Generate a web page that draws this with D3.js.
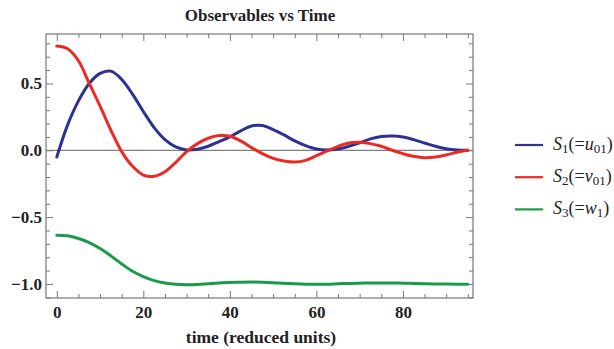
<!DOCTYPE html>
<html>
<head>
<meta charset="utf-8">
<script src="https://cdn.jsdelivr.net/npm/d3@7/dist/d3.min.js"></script>
<style>
  body { margin: 0; background: #fff; }
  text { font-family: "Liberation Serif", "DejaVu Serif", serif; }
</style>
</head>
<body>
<div id="chart"></div>
<script>
// time samples (reduced units)
var times = [0, 2.5, 5, 7.5, 10, 12.5, 15, 17.5, 20, 22.5, 25, 27.5, 30, 32.5, 35, 37.5, 40,
  42.5, 45, 47.5, 50, 52.5, 55, 57.5, 60, 62.5, 65, 67.5, 70, 72.5, 75, 77.5, 80,
  82.5, 85, 87.5, 90, 92.5, 95];

// S1 (=u01)
var s1 = [-0.05, 0.19, 0.37, 0.50, 0.575, 0.592, 0.53, 0.42, 0.29, 0.17, 0.08, 0.025, 0.003,
  0.008, 0.03, 0.065, 0.10, 0.145, 0.182, 0.185, 0.155, 0.115, 0.07, 0.035, 0.01,
  0.003, 0.01, 0.03, 0.055, 0.085, 0.103, 0.107, 0.10, 0.08, 0.055, 0.03, 0.012, 0.003, 0.0];

// S2 (=v01)
var s2 = [0.78, 0.76, 0.67, 0.50, 0.33, 0.15, -0.01, -0.12, -0.185, -0.195, -0.16, -0.09, -0.01,
  0.05, 0.09, 0.11, 0.105, 0.07, 0.02, -0.025, -0.06, -0.08, -0.088, -0.075, -0.04,
  -0.005, 0.03, 0.055, 0.06, 0.05, 0.03, 0.0, -0.025, -0.045, -0.055, -0.05, -0.035, -0.015, 0.0];

// S3 (=w1)
var s3 = [-0.635, -0.64, -0.66, -0.69, -0.735, -0.79, -0.85, -0.905, -0.945, -0.975, -0.993, -1.003, -1.006,
  -1.004, -0.998, -0.992, -0.989, -0.987, -0.986, -0.987, -0.99, -0.995, -0.999, -1.002, -1.003,
  -1.002, -0.999, -0.996, -0.994, -0.993, -0.993, -0.993, -0.994, -0.996, -0.998, -1.0, -1.001, -1.002, -1.002];

var xTicks = [0, 20, 40, 60, 80];
var yTicks = [-1.0, -0.5, 0.0, 0.5];

var series = [
  { name: "S", sub: "1", inner: "u", innerSub: "01", values: s1, color: "#2e3192" },
  { name: "S", sub: "2", inner: "v", innerSub: "01", values: s2, color: "#ec2a24" },
  { name: "S", sub: "3", inner: "w", innerSub: "1", values: s3, color: "#1b9a4c" }
];

var W = 614, H = 349;
var margin = { top: 34, left: 46 };
var width = 427, height = 264;

var svg = d3.select("#chart").append("svg")
  .attr("width", W)
  .attr("height", H);

var g = svg.append("g")
  .attr("transform", "translate(" + margin.left + "," + margin.top + ")");

var x = d3.scaleLinear().domain([-2.5, 96.2]).range([0, width]);
var y = d3.scaleLinear().domain([-1.105, 0.87]).range([height, 0]);

// minor tick values
var xMinor = d3.range(0, 96, 5).filter(function (d) { return d % 20 != 0; });
var yMinor = d3.range(-11, 9).map(function (d) { return d / 10; })
  .filter(function (d) { return Math.abs(Math.round(d * 10)) % 5 != 0; });

function tickAxis(axis, vals, size) {
  return axis.tickValues(vals).tickSize(size).tickFormat("");
}

// ticks on all four sides, pointing inward
var tickGroups = [
  [d3.axisBottom(x), xTicks, -7, "translate(0," + height + ")"],
  [d3.axisBottom(x), xMinor, -4, "translate(0," + height + ")"],
  [d3.axisTop(x), xTicks, -7, null],
  [d3.axisTop(x), xMinor, -4, null],
  [d3.axisLeft(y), yTicks, -7, null],
  [d3.axisLeft(y), yMinor, -4, null],
  [d3.axisRight(y), yTicks, -7, "translate(" + width + ",0)"],
  [d3.axisRight(y), yMinor, -4, "translate(" + width + ",0)"]
];
tickGroups.forEach(function (t) {
  var ax = g.append("g").attr("class", "ticks");
  if (t[3]) ax.attr("transform", t[3]);
  ax.call(tickAxis(t[0], t[1], t[2]));
  ax.select(".domain").remove();
  ax.selectAll("line").attr("stroke", "#777").attr("stroke-width", 1);
});

// tick labels
var xLab = g.append("g")
  .attr("transform", "translate(0," + height + ")")
  .call(d3.axisBottom(x).tickValues(xTicks).tickSize(0).tickPadding(8)
    .tickFormat(d3.format("d")));
xLab.select(".domain").remove();
xLab.selectAll("text")
  .style("font-family", "'Liberation Serif', serif")
  .style("font-size", "17px")
  .style("font-weight", "bold")
  .attr("fill", "#222");

var yLab = g.append("g")
  .call(d3.axisLeft(y).tickValues(yTicks).tickSize(0).tickPadding(4)
    .tickFormat(function (d) { return d3.format(".1f")(d).replace("-", "\u2212"); }));
yLab.select(".domain").remove();
yLab.selectAll("text")
  .style("font-family", "'Liberation Serif', serif")
  .style("font-size", "17px")
  .style("font-weight", "bold")
  .attr("fill", "#222");

// zero axis line
g.append("line")
  .attr("x1", 0).attr("x2", width)
  .attr("y1", y(0)).attr("y2", y(0))
  .attr("stroke", "#808080")
  .attr("stroke-width", 1.3);

// curves
var line = d3.line()
  .x(function (d, i) { return x(times[i]); })
  .y(function (d) { return y(d); })
  .curve(d3.curveCatmullRom);

g.append("g").selectAll("path")
  .data(series)
  .enter()
  .append("path")
  .attr("d", function (d) { return line(d.values); })
  .attr("fill", "none")
  .attr("stroke", function (d) { return d.color; })
  .attr("stroke-width", 3)
  .attr("stroke-linejoin", "round")
  .attr("stroke-linecap", "round");

// frame
g.append("rect")
  .attr("width", width)
  .attr("height", height)
  .attr("fill", "none")
  .attr("stroke", "#777")
  .attr("stroke-width", 1.2);

// title and axis label
svg.append("text")
  .attr("x", 260)
  .attr("y", 21)
  .attr("text-anchor", "middle")
  .style("font-size", "17px")
  .style("font-weight", "bold")
  .attr("fill", "#222")
  .text("Observables vs Time");

svg.append("text")
  .attr("x", 261)
  .attr("y", 343)
  .attr("text-anchor", "middle")
  .style("font-size", "17.5px")
  .style("font-weight", "bold")
  .attr("fill", "#222")
  .text("time (reduced units)");

// legend
var legend = svg.append("g")
  .attr("transform", "translate(515,145)");

var item = legend.selectAll("g")
  .data(series)
  .enter()
  .append("g")
  .attr("transform", function (d, i) { return "translate(0," + (i * 32.2) + ")"; });

item.append("line")
  .attr("x1", 0).attr("x2", 28)
  .attr("stroke", function (d) { return d.color; })
  .attr("stroke-width", 2.2);

var label = item.append("text")
  .attr("x", 38)
  .attr("y", 5)
  .style("font-size", "18px")
  .attr("fill", "#222");

label.append("tspan").style("font-style", "italic").text(function (d) { return d.name; });
label.append("tspan").attr("dy", 3).style("font-size", "13px").text(function (d) { return d.sub; });
label.append("tspan").attr("dy", -3).text("(=");
label.append("tspan").style("font-style", "italic").text(function (d) { return d.inner; });
label.append("tspan").attr("dy", 3).style("font-size", "13px").text(function (d) { return d.innerSub; });
label.append("tspan").attr("dy", -3).text(")");
</script>
</body>
</html>
